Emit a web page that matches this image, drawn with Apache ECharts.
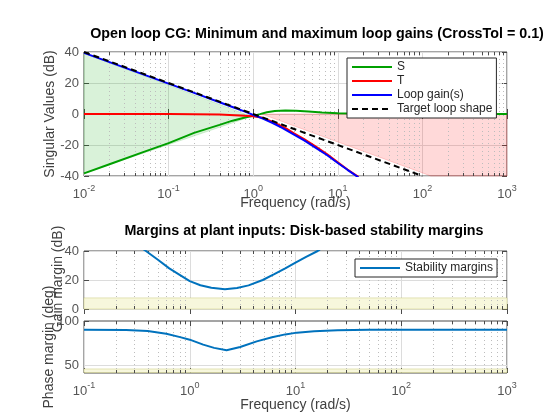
<!DOCTYPE html>
<html><head><meta charset="utf-8">
<script src="https://cdn.jsdelivr.net/npm/echarts@6/dist/echarts.min.js"></script>
<style>html,body{margin:0;padding:0;background:#fff}#c{width:560px;height:420px}</style>
</head><body><div id="c"></div>
<script>
// ---------- data ----------
const sFreq = [0.01, 0.02, 0.05, 0.1, 0.2, 0.4, 0.57, 0.8, 1.0, 1.2, 1.45, 1.8, 2.4, 3.2, 4.5, 6.5, 10, 20, 50, 1000];
const sGain = [-38.3, -32.4, -24.6, -18.8, -12.2, -7.0, -4.3, -2.3, -1.2, -0.1, 1.1, 1.9, 2.3, 2.1, 1.6, 1.0, 0.5, 0.2, 0.05, 0];
const tFreq = [0.01, 0.1, 0.2, 0.4, 0.6, 0.8, 1.0, 1.25, 1.6, 2.0, 2.5, 3.0, 4.0, 5.5, 7.5, 10, 13, 17.5];
const tGain = [0, 0, -0.1, -0.4, -0.8, -1.2, -1.5, -2.2, -4.4, -6.9, -9.6, -12.3, -16.2, -21.0, -26.0, -31.2, -35.8, -40.6];
const lFreq = [0.01, 0.02, 0.05, 0.1, 0.2, 0.4, 0.6, 0.8, 1.0, 1.3, 1.7, 2.2, 3.0, 4.0, 5.5, 7.5, 10, 13, 17.5];
const lGain = [39.4, 33.5, 25.6, 19.6, 13.6, 7.6, 4.0, 1.5, -0.6, -3.0, -5.8, -9.0, -13.1, -17.0, -21.8, -26.6, -31.6, -36.0, -40.8];
const tgtFreq = [0.01, 100];
const tgtGain = [40, -40];
const minFillFreq = [0.01, 0.95, 0.01];
const minFillGain = [39.2, -1.6, -38.3];
const maxFillFreq = [1.26, 1000, 1000, 126];
const maxFillGain = [0, 0, -40, -40];

const gmFreq = [0.36, 0.385, 0.5, 0.64, 0.81, 1.0, 1.26, 1.6, 2.15, 2.8, 3.6, 4.9, 6.3, 8.0, 10, 12.6, 16.2, 17];
const gmVal  = [41.5, 40, 34, 28, 23.4, 19.2, 16.4, 14.6, 13.6, 14.5, 16.3, 20, 24, 28, 32, 36, 40, 41];
const pmFreq = [0.1, 0.25, 0.4, 0.6, 0.81, 1.0, 1.34, 1.7, 2.23, 3.0, 4.3, 6.0, 8.0, 10.3, 15, 25, 50, 1000];
const pmVal  = [90, 89.8, 88.6, 85.5, 81.7, 78.8, 73.2, 69.5, 66.9, 70.5, 76.9, 81.5, 84.8, 86.8, 88.5, 89.6, 90, 90];
const gmBand = [0, 7.66];
const pmBand = [41.5, 45.6];

const svTicks = [-40, -20, 0, 20, 40];
const gmTicks = [0, 20, 40];
const pmTicks = [50, 100];
const legendTop = ['S', 'T', 'Loop gain(s)', 'Target loop shape'];
const legendBottom = ['Stability margins'];

// ---------- layout & styling ----------
const FONT = '"Liberation Sans", Arial, Helvetica, sans-serif';
const TICKC = '#555555', AXC = '#4a4a4a', LABC = '#404040';
const GRIDC = '#dcdcdc';
const PLOT_LEFT = 84, PLOT_WIDTH = 423;
const G0 = { top: 52, height: 124 }, G1 = { top: 251, height: 58 }, G2 = { top: 321, height: 52 };

function pairs(xs, ys) { return xs.map((x, i) => [x, ys[i]]); }
function minorList(lo, hi) {
  const out = [];
  for (let d = lo; d < hi * 0.99; d *= 10) for (let k = 2; k <= 9; k++) out.push(+(k * d).toPrecision(3));
  return out;
}
const rich = {
  b: { fontSize: 13, color: TICKC, fontFamily: FONT, lineHeight: 20 },
  s: { fontSize: 9, color: TICKC, fontFamily: FONT, verticalAlign: 'top' }
};
function logLabel(v) { const e = Math.round(Math.log10(v)); return '{b|10}{s|' + e + '}'; }

function xLog(grid, min, showLabel, top) {
  return {
    type: 'log', logBase: 10, gridIndex: grid, min: min, max: 1000,
    position: top ? 'top' : 'bottom',
    axisLine: { show: false },
    axisTick: { show: true, inside: true, length: 5, lineStyle: { color: AXC } },
    axisLabel: { show: showLabel && !top, formatter: logLabel, rich: rich, margin: 8 },
    splitLine: { show: !top, lineStyle: { color: GRIDC, width: 1 } },
    minorTick: { show: false }, minorSplitLine: { show: false }
  };
}
function yVal(grid, min, max, ticks, right, split, lh) {
  return {
    type: 'value', gridIndex: grid, min: min, max: max,
    position: right ? 'right' : 'left',
    axisLine: { show: false },
    axisTick: { show: true, inside: true, length: 5, lineStyle: { color: AXC }, customValues: ticks },
    axisLabel: { show: !right, color: TICKC, fontSize: 13, lineHeight: lh || 15, fontFamily: FONT, margin: 5,
      customValues: ticks, showMinLabel: true, showMaxLabel: true, hideOverlap: false },
    splitLine: { show: !right && split, lineStyle: { color: GRIDC, width: 1 } }
  };
}
function minorSeries(xi, yi, freqs, ymin, ymax) {
  return {
    type: 'custom', xAxisIndex: xi, yAxisIndex: yi, silent: true, z: 3,
    data: freqs.map(f => [f, ymin]), encode: { x: 0, y: 1 },
    renderItem: function (params, api) {
      const x = api.value(0);
      const p1 = api.coord([x, ymin]), p2 = api.coord([x, ymax]);
      const px = Math.round(p1[0]) + 0.5;
      return { type: 'group', children: [
        { type: 'line', shape: { x1: px, y1: p1[1], x2: px, y2: p2[1] }, style: { stroke: '#bdbdbd', lineWidth: 1, lineDash: [1, 3] } },
        { type: 'line', shape: { x1: px, y1: p1[1], x2: px, y2: p1[1] - 3 }, style: { stroke: AXC, lineWidth: 1 } },
        { type: 'line', shape: { x1: px, y1: p2[1], x2: px, y2: p2[1] + 3 }, style: { stroke: AXC, lineWidth: 1 } }
      ] };
    }
  };
}
function polySeries(xi, yi, xs, ys, fill, stroke, z) {
  return {
    type: 'custom', xAxisIndex: xi, yAxisIndex: yi, silent: true, z: z,
    data: [[xs[0], ys[0]]], encode: { x: 0, y: 1 },
    renderItem: function (params, api) {
      return { type: 'polygon', shape: { points: xs.map((x, i) => api.coord([x, ys[i]])) },
        style: { fill: fill, stroke: stroke, lineWidth: 1 } };
    }
  };
}
function lineSeries(name, xi, yi, xs, ys, color, type, z) {
  return {
    type: 'line', name: name, xAxisIndex: xi, yAxisIndex: yi, data: pairs(xs, ys),
    showSymbol: false, symbol: 'none', clip: true, silent: true, z: z, animation: false,
    lineStyle: { color: color, width: 2, type: type || 'solid' }, itemStyle: { color: color }
  };
}
function txt(text, x, y, font, fill, rot, align) {
  return { type: 'text', z: 100, rotation: rot || 0, x: x, y: y,
    style: { text: text, x: 0, y: 0, align: align || 'center', verticalAlign: 'middle', font: font, fill: fill } };
}

const chart = echarts.init(document.getElementById('c'), null, { renderer: 'canvas' });
const gridBase = { left: PLOT_LEFT, width: PLOT_WIDTH, show: true, borderColor: AXC, borderWidth: 1, backgroundColor: 'transparent' };
const legendBase = {
  orient: 'vertical', itemWidth: 40, itemHeight: 12, itemGap: 2,
  padding: [3, 4, 3, 4], borderColor: '#262626', borderWidth: 1, backgroundColor: '#ffffff', borderRadius: 0,
  selectedMode: false, itemStyle: { opacity: 0 }, textStyle: { fontSize: 12, color: '#262626', fontFamily: FONT }, z: 20
};
const option = {
  animation: false,
  textStyle: { fontFamily: FONT },
  grid: [
    Object.assign({}, G0, gridBase),
    Object.assign({}, G1, gridBase),
    Object.assign({}, G2, gridBase)
  ],
  xAxis: [
    xLog(0, 0.01, true, false), xLog(0, 0.01, false, true),
    xLog(1, 0.1, false, false), xLog(1, 0.1, false, true),
    xLog(2, 0.1, true, false), xLog(2, 0.1, false, true)
  ],
  yAxis: [
    yVal(0, -40, 40, svTicks, false, true), yVal(0, -40, 40, svTicks, true, false),
    yVal(1, 0, 40, gmTicks, false, true, 10), yVal(1, 0, 40, gmTicks, true, false, 10),
    yVal(2, 41, 100, pmTicks, false, false, 10), yVal(2, 41, 100, pmTicks, true, false, 10)
  ],
  legend: [
    Object.assign({ data: legendTop, left: 347, top: 58 }, legendBase),
    Object.assign({ data: legendBottom, left: 355, top: 259 }, legendBase)
  ],
  graphic: [
    txt('Open loop CG: Minimum and maximum loop gains (CrossTol = 0.1)', 317, 34, 'bold 14.3px ' + FONT, '#000'),
    txt('Margins at plant inputs: Disk-based stability margins', 304, 231, 'bold 14.3px ' + FONT, '#000'),
    txt('Frequency (rad/s)', 295.5, 203, '14px ' + FONT, LABC),
    txt('Frequency (rad/s)', 295.5, 405, '14px ' + FONT, LABC),
    txt('Singular Values (dB)', 50, 114, '14px ' + FONT, LABC, Math.PI / 2),
    txt('Gain margin (dB)', 58, 279, '14px ' + FONT, LABC, Math.PI / 2),
    txt('Phase margin (deg)', 49, 347, '14px ' + FONT, LABC, Math.PI / 2)
  ],
  series: [
    polySeries(0, 0, minFillFreq, minFillGain, 'rgba(0,170,0,0.15)', 'rgba(0,170,0,0.15)', 1),
    polySeries(0, 0, maxFillFreq, maxFillGain, 'rgba(255,0,0,0.15)', 'rgba(255,0,0,0.18)', 1),
    polySeries(2, 2, [0.1, 1000, 1000, 0.1], [gmBand[0], gmBand[0], gmBand[1], gmBand[1]], '#f7f7dc', 'rgba(200,200,110,0.45)', 1),
    polySeries(4, 4, [0.1, 1000, 1000, 0.1], [pmBand[0], pmBand[0], pmBand[1], pmBand[1]], '#f7f7dc', 'rgba(200,200,110,0.45)', 1),
    minorSeries(0, 0, minorList(0.01, 1000), -40, 40),
    minorSeries(2, 2, minorList(0.1, 1000), 0, 40),
    minorSeries(4, 4, minorList(0.1, 1000), 41, 100),
    lineSeries('S', 0, 0, sFreq, sGain, '#00a000', 'solid', 5),
    lineSeries('T', 0, 0, tFreq, tGain, '#ff0000', 'solid', 6),
    lineSeries('Loop gain(s)', 0, 0, lFreq, lGain, '#0000ff', 'solid', 7),
    lineSeries('Target loop shape', 0, 0, tgtFreq, tgtGain, '#000000', [6, 4], 8),
    lineSeries('Stability margins', 2, 2, gmFreq, gmVal, '#0072bd', 'solid', 6),
    Object.assign(lineSeries('Stability margins', 4, 4, pmFreq, pmVal, '#0072bd', 'solid', 6), {
      markLine: { silent: true, symbol: 'none', label: { show: false }, animation: false,
        lineStyle: { color: GRIDC, type: 'solid', width: 1 }, data: [{ yAxis: pmTicks[0] }] }
    })
  ]
};
chart.setOption(option);
</script>
</body></html>
